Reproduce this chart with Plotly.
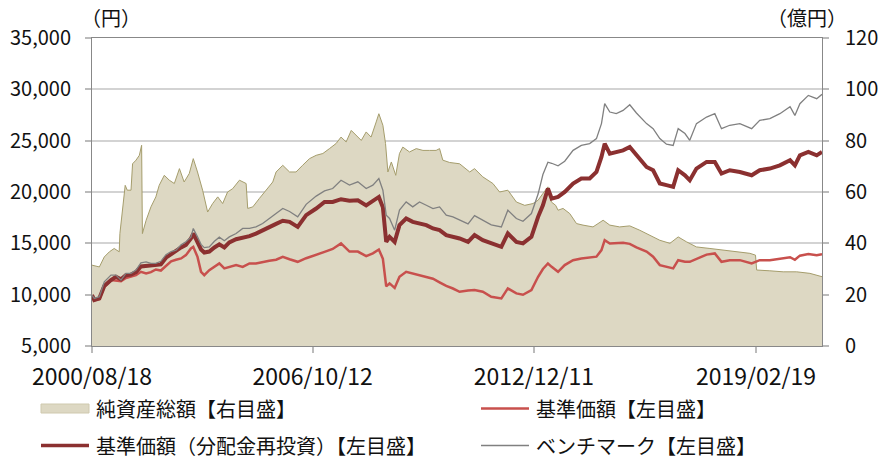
import plotly.graph_objects as go

# ---- Lines (left axis, 円) ----
line_dates = [
    "2000-08-18", "2000-09-10", "2000-11-01", "2000-12-21", "2001-02-27", "2001-04-19", "2001-06-09", "2001-07-29",
    "2001-09-19", "2001-11-09", "2001-12-29", "2002-02-20", "2002-04-10", "2002-05-30", "2002-07-20", "2002-09-10",
    "2002-11-01", "2002-12-21", "2003-02-11", "2003-04-01", "2003-05-22", "2003-06-15", "2003-07-28", "2003-09-02",
    "2003-10-05", "2003-11-25", "2004-01-16", "2004-03-06", "2004-04-26", "2004-06-16", "2004-08-24", "2004-10-30",
    "2005-01-07", "2005-03-14", "2005-05-21", "2005-07-28", "2005-10-05", "2005-12-12", "2006-02-19", "2006-05-13",
    "2006-08-07", "2006-11-17", "2007-02-10", "2007-05-04", "2007-07-28", "2007-10-22", "2008-01-15", "2008-04-09",
    "2008-06-16", "2008-08-16", "2008-09-26", "2008-10-30", "2008-12-03", "2009-01-24", "2009-03-14", "2009-05-21",
    "2009-07-27", "2009-10-04", "2009-12-12", "2010-02-18", "2010-04-26", "2010-07-03", "2010-09-09", "2010-11-16",
    "2011-02-10", "2011-04-17", "2011-07-10", "2011-10-04", "2012-01-15", "2012-03-21", "2012-06-16", "2012-08-22",
    "2012-11-16", "2013-01-23", "2013-03-13", "2013-05-03", "2013-06-10", "2013-08-14", "2013-10-21", "2014-01-14",
    "2014-04-08", "2014-07-02", "2014-09-09", "2014-10-30", "2014-12-02", "2015-01-23", "2015-03-30", "2015-06-07",
    "2015-08-14", "2015-10-21", "2016-02-01", "2016-04-08", "2016-06-15", "2016-08-22", "2016-10-29", "2016-12-19",
    "2017-02-26", "2017-04-16", "2017-06-23", "2017-10-04", "2017-12-27", "2018-03-05", "2018-05-28", "2018-09-08",
    "2019-01-06", "2019-03-29", "2019-07-10", "2019-10-20", "2020-02-01", "2020-03-21", "2020-05-11", "2020-08-05",
    "2020-10-29", "2020-12-22",
]

nav_reinvest = [
    9960, 9470, 9640, 10850, 11420, 11750, 11500, 11900, 11950, 12200, 12750, 12800, 12850, 12880, 12950, 13600,
    13950, 14350, 14600, 14850, 15470, 15960, 15140, 14400, 14100, 14200, 14600, 14900, 14600, 15100, 15400, 15550,
    15700, 15950, 16300, 16600, 16900, 17200, 17090, 16600, 17740, 18390, 19030, 19030, 19300, 19150, 19200, 18700,
    19150, 19520, 18500, 15140, 15630, 15140, 16770, 17420, 17090, 16930, 16770, 16450, 16280, 15800, 15650, 15470,
    15140, 15800, 15310, 14990, 14660, 15960, 15140, 14990, 15630, 17580, 18710, 20340, 19360, 19520, 20010, 20830,
    21310, 21310, 21950, 23410, 24710, 23740, 23900, 24060, 24380, 23650, 22440, 22120, 20830, 20670, 20500, 22120,
    21630, 21140, 22280, 22930, 22930, 21800, 22120, 21950, 21630, 22120, 22280, 22600, 23090, 22600, 23570, 23900,
    23570, 23900,
]

nav = [
    9800, 9470, 9560, 10770, 11420, 11350, 11300, 11620, 11740, 11900, 12230, 12070, 12200, 12450, 12350, 12800,
    13250, 13400, 13530, 13850, 14500, 14660, 13680, 12230, 11900, 12390, 12710, 13040, 12560, 12710, 12880, 12710,
    13040, 13040, 13200, 13300, 13400, 13680, 13450, 13200, 13550, 13850, 14170, 14450, 14990, 14200, 14200, 13750,
    14020, 14400, 13500, 10800, 11100, 10650, 11740, 12230, 12070, 11900, 11780, 11550, 11200, 10850, 10600, 10280,
    10400, 10450, 10280, 9800, 9640, 10610, 10120, 9990, 10450, 11740, 12500, 13040, 12710, 12230, 12880, 13360,
    13530, 13600, 13700, 14340, 15310, 14990, 14990, 15050, 14950, 14600, 14200, 13700, 12880, 12710, 12560, 13360,
    13200, 13200, 13500, 13900, 14020, 13200, 13360, 13360, 13040, 13360, 13360, 13480, 13650, 13400, 13800, 13950,
    13850, 13950,
]

benchmark = [
    9960, 9640, 9800, 11250, 11900, 11900, 11420, 12070, 12070, 12400, 13100, 13200, 13040, 13040, 13250, 13900,
    14200, 14340, 14850, 15150, 15600, 16450, 15630, 14900, 14580, 14650, 15200, 15600, 15250, 15630, 15960, 16450,
    16450, 16600, 16930, 17420, 17850, 18390, 18100, 17580, 18800, 19600, 20100, 20340, 21140, 20670, 20990, 20340,
    20670, 21310, 20170, 17740, 17420, 16280, 18230, 19030, 18550, 19030, 18710, 18390, 18550, 17740, 17580, 17300,
    16900, 17700, 17250, 16800, 16600, 18230, 17420, 17150, 17900, 19800, 21700, 22900, 22800, 22550, 23000, 24060,
    24540, 24710, 25200, 26660, 28600, 27790, 27630, 27950, 28500, 27700, 26660, 26170, 25200, 24650, 24540, 26170,
    25690, 25040, 26660, 27300, 27630, 26170, 26500, 26660, 26170, 26980, 27140, 27630, 28300, 27460, 28600, 29410,
    29090, 29510,
]

# ---- Net assets (right axis, 億円) ----
aum_dates = [
    "2000-08-18", "2000-11-01", "2000-12-21", "2001-02-11", "2001-04-01", "2001-05-22", "2001-05-29", "2001-06-25",
    "2001-07-22", "2001-08-12", "2001-09-19", "2001-10-05", "2001-11-09", "2001-12-13", "2002-01-05", "2002-01-13",
    "2002-02-20", "2002-04-10", "2002-05-30", "2002-07-03", "2002-08-24", "2002-10-14", "2002-12-04", "2003-01-25",
    "2003-03-14", "2003-05-05", "2003-06-15", "2003-07-28", "2003-09-18", "2003-11-08", "2003-12-29", "2004-02-19",
    "2004-04-09", "2004-05-29", "2004-07-20", "2004-09-27", "2004-12-04", "2004-12-20", "2005-02-10", "2005-04-18",
    "2005-06-25", "2005-09-01", "2005-10-05", "2005-12-12", "2006-02-19", "2006-04-26", "2006-07-02", "2006-09-10",
    "2006-11-17", "2007-01-24", "2007-04-01", "2007-06-08", "2007-07-28", "2007-09-18", "2007-11-09", "2007-12-29",
    "2008-02-19", "2008-04-09", "2008-05-29", "2008-07-20", "2008-08-16", "2008-09-26", "2008-10-23", "2008-11-16",
    "2008-12-21", "2009-02-04", "2009-03-14", "2009-04-17", "2009-06-24", "2009-09-01", "2009-11-08", "2010-01-15",
    "2010-03-22", "2010-04-26", "2010-05-29", "2010-08-06", "2010-11-16", "2011-02-27", "2011-04-17", "2011-07-10",
    "2011-10-21", "2011-12-28", "2012-03-21", "2012-06-16", "2012-09-09", "2012-12-02", "2013-01-23", "2013-03-13",
    "2013-05-03", "2013-06-07", "2013-07-21", "2013-08-14", "2013-10-04", "2013-12-11", "2014-02-18", "2014-04-25",
    "2014-08-05", "2014-11-16", "2015-01-23", "2015-05-03", "2015-08-14", "2015-11-24", "2016-03-04", "2016-06-15",
    "2016-09-26", "2016-12-19", "2017-03-13", "2017-06-23", "2017-11-07", "2018-03-21", "2018-08-05", "2018-12-19",
    "2019-02-14", "2019-02-26", "2019-07-10", "2019-11-23", "2020-04-08", "2020-08-21", "2020-12-22",
]

aum = [
    31.5, 30.8, 34.7, 36.7, 38.0, 36.7, 43.8, 53.6, 62.6, 60.7, 60.7, 71.0, 72.4, 74.3, 78.2, 43.8,
    49.0, 54.2, 58.1, 62.6, 66.5, 64.6, 63.3, 69.1, 63.9, 67.2, 73.0, 67.8, 60.7, 52.2, 55.5, 58.1,
    55.5, 60.0, 61.3, 64.6, 63.3, 53.6, 54.2, 57.5, 60.7, 63.9, 67.8, 70.4, 67.8, 67.8, 70.4, 73.0,
    74.3, 75.0, 76.9, 78.9, 81.4, 79.5, 84.0, 82.1, 80.1, 83.4, 81.4, 87.3, 90.5, 86.0, 78.9, 67.8,
    71.7, 66.5, 75.0, 77.5, 75.6, 76.9, 76.2, 76.2, 76.2, 76.9, 72.4, 71.5, 71.0, 67.8, 69.1, 65.9,
    63.3, 60.0, 60.7, 56.1, 54.8, 55.5, 56.8, 59.4, 62.0, 56.1, 54.8, 52.9, 53.6, 51.6, 47.7, 47.1,
    46.4, 49.0, 47.1, 46.4, 46.8, 45.1, 43.2, 41.2, 40.0, 42.5, 40.6, 38.6, 38.0, 37.3, 36.7, 36.1,
    35.4, 29.6, 29.3, 28.9, 28.9, 28.3, 27.0,
]

x_tick_vals = ["2000-08-18", "2006-10-12", "2012-12-11", "2019-02-19"]
x_tick_text = ["2000/08/18", "2006/10/12", "2012/12/11", "2019/02/19"]

series_names = ["純資産総額【右目盛】", "基準価額【左目盛】", "基準価額（分配金再投資）【左目盛】", "ベンチマーク【左目盛】"]
series_colors = ["#DDD8C3", "#C8504D", "#8B3030", "#808080"]
series_widths = [1, 2.5, 4, 1.3]
AREA_LINE = "#A59D6C"

FONT = "Noto Sans CJK JP"
TXT = "#111111"

# pixel geometry of the plot box (used only to place the legend/unit labels)
L, R, T, B = 92, 822, 38, 346
W, H = R - L, B - T


def px(x):
    return (x - L) / W


def py(y):
    return (B - y) / H


fig = go.Figure()

fig.add_trace(go.Scatter(
    x=aum_dates, y=aum, name=series_names[0], yaxis="y",
    mode="lines", fill="tozeroy", fillcolor=series_colors[0],
    line=dict(color=AREA_LINE, width=series_widths[0]),
))
for i, vals in zip([1, 2, 3], [nav, nav_reinvest, benchmark]):
    fig.add_trace(go.Scatter(
        x=line_dates, y=vals, name=series_names[i], yaxis="y2",
        mode="lines", line=dict(color=series_colors[i], width=series_widths[i]),
    ))

# manual legend (2 columns x 2 rows)
legend_slots = [(41, 408.5), (481, 408.5), (41, 445.5), (481, 445.5)]
shapes = []
annotations = []
for i, (sx, sy) in enumerate(legend_slots):
    if i == 0:
        shapes.append(dict(type="rect", xref="paper", yref="paper",
                           x0=px(sx), x1=px(sx + 48), y0=py(sy + 4.5), y1=py(sy - 4.5),
                           fillcolor=series_colors[0], line=dict(color="#CFC9AE", width=1)))
    else:
        shapes.append(dict(type="line", xref="paper", yref="paper",
                           x0=px(sx), x1=px(sx + 48), y0=py(sy), y1=py(sy),
                           line=dict(color=series_colors[i], width=min(series_widths[i], 3.5))))
    annotations.append(dict(text=series_names[i], xref="paper", yref="paper",
                            x=px(sx + 53), y=py(sy), xanchor="left", yanchor="middle",
                            showarrow=False, font=dict(family=FONT, size=20, color=TXT)))

annotations.append(dict(text="（円）", xref="paper", yref="paper", x=px(111), y=py(17),
                        xanchor="center", yanchor="middle", showarrow=False,
                        font=dict(family=FONT, size=20, color=TXT)))
annotations.append(dict(text="（億円）", xref="paper", yref="paper", x=px(807), y=py(17),
                        xanchor="center", yanchor="middle", showarrow=False,
                        font=dict(family=FONT, size=20, color=TXT)))

fig.update_layout(
    width=879, height=460,
    margin=dict(l=L, r=879 - R, t=T, b=460 - B, autoexpand=False),
    paper_bgcolor="white", plot_bgcolor="white",
    font=dict(family=FONT, size=20, color=TXT),
    showlegend=False,
    shapes=shapes,
    annotations=annotations,
    xaxis=dict(
        type="date", range=["2000-08-18", "2020-12-22"],
        tickmode="array", tickvals=x_tick_vals, ticktext=x_tick_text,
        ticks="outside", ticklen=6, tickcolor="#BBBBBB", tickwidth=1.5,
        showline=True, linecolor="#888888", linewidth=1, mirror=True,
        showgrid=False, zeroline=False, ticklabelstandoff=4,
        tickfont=dict(family=FONT, size=23, color=TXT),
    ),
    yaxis=dict(
        range=[0, 120], tickmode="array", tickvals=[0, 20, 40, 60, 80, 100, 120],
        side="right", ticks="outside", ticklen=6, tickcolor="#BBBBBB", tickwidth=1.5,
        showline=True, linecolor="#888888", linewidth=1,
        showgrid=True, gridcolor="#D3D3D3", gridwidth=1.5, zeroline=False,
        ticklabelstandoff=12,
        tickfont=dict(family=FONT, size=20, color=TXT),
    ),
    yaxis2=dict(
        range=[5000, 35000], tickmode="array",
        tickvals=[5000, 10000, 15000, 20000, 25000, 30000, 35000],
        tickformat=",", overlaying="y", side="left",
        ticks="outside", ticklen=6, tickcolor="#BBBBBB", tickwidth=1.5,
        showline=True, linecolor="#888888", linewidth=1,
        showgrid=False, zeroline=False,
        ticklabelstandoff=10,
        tickfont=dict(family=FONT, size=20, color=TXT),
    ),
)

fig.write_html(
    "out.html",
    config={"displayModeBar": False},
    post_script="document.body.style.margin='0';document.body.style.padding='0';",
)
